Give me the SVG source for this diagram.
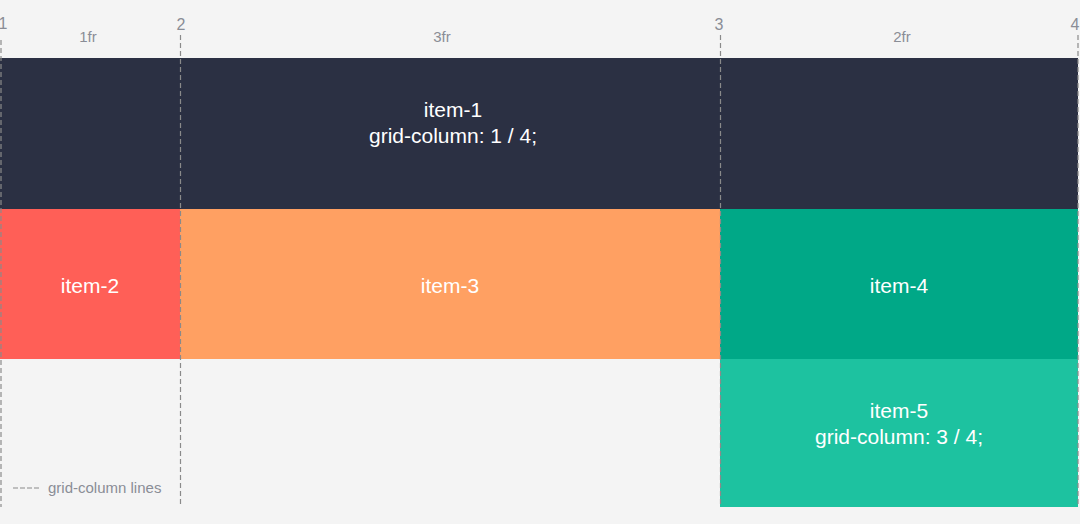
<svg xmlns="http://www.w3.org/2000/svg" width="1080" height="524" viewBox="0 0 1080 524">
<style>
text{font-family:"Liberation Sans",Arial,sans-serif}
.w{fill:#ffffff;font-size:21px;text-anchor:middle}
.g{fill:#8a8d96;font-size:15px;text-anchor:middle}
.n{fill:#8a8d96;font-size:16px;text-anchor:middle}
.ln{stroke:#8a8a8a;stroke-width:1.2;stroke-dasharray:5 3;fill:none}
</style>
<rect x="0" y="0" width="1080" height="524" fill="#f4f4f4"/>
<g id="item-1"><rect x="0" y="58" width="1078" height="151" fill="#2b3043"/>
<text class="w" x="453" y="117">item-1</text><text class="w" x="453" y="143">grid-column: 1 / 4;</text></g>
<g id="item-2"><rect x="0" y="209" width="180" height="150" fill="#ff5f57"/><text class="w" x="90" y="293">item-2</text></g>
<g id="item-3"><rect x="180" y="209" width="540" height="150" fill="#ffa062"/><text class="w" x="450" y="293">item-3</text></g>
<g id="item-4"><rect x="720" y="209" width="358" height="150" fill="#00a887"/><text class="w" x="899" y="293">item-4</text></g>
<g id="item-5"><rect x="720" y="359" width="358" height="148" fill="#1dc2a0"/>
<text class="w" x="899" y="418">item-5</text><text class="w" x="899" y="444">grid-column: 3 / 4;</text></g>
<g id="connectors">
<line class="ln" x1="1" y1="40" x2="1" y2="507"/>
<line class="ln" x1="180.5" y1="35" x2="180.5" y2="507"/>
<line class="ln" x1="720.5" y1="35" x2="720.5" y2="507"/>
<line class="ln" x1="1078" y1="35" x2="1078" y2="507"/>
</g>
<g id="labels">
<text class="n" x="3" y="29">1</text>
<text class="n" x="181" y="30">2</text>
<text class="n" x="719" y="30">3</text>
<text class="n" x="1075" y="30">4</text>
<text class="g" x="88" y="42">1fr</text>
<text class="g" x="442" y="42">3fr</text>
<text class="g" x="902" y="42">2fr</text>
</g>
<g id="legend">
<line x1="13" y1="488" x2="41" y2="488" stroke="#8a8a8a" stroke-width="1.2" stroke-dasharray="5 2"/>
<text x="48" y="493" fill="#8a8d96" font-size="15">grid-column lines</text>
</g>
</svg>
